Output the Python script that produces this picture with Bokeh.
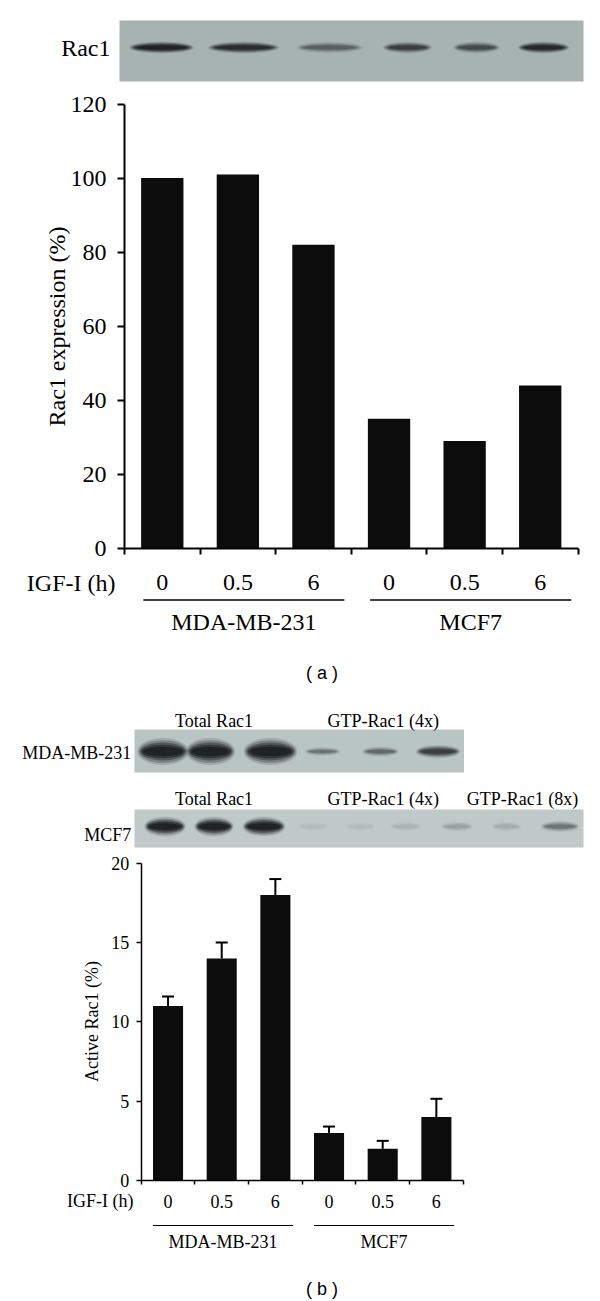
import numpy as np
from bokeh.plotting import figure
from bokeh.models import ColumnDataSource, FixedTicker, Range1d, Whisker, TeeHead
from bokeh.layouts import column
from bokeh.core.properties import value
from bokeh.embed import file_html
from bokeh.resources import INLINE

# ---------------- data ----------------
IGF_TIMES = ["0", "0.5", "6", "0", "0.5", "6"]
CELL_LINES = ["MDA-MB-231", "MCF7"]
RAC1_EXPRESSION = [100, 101, 82, 35, 29, 44]          # panel (a), %
ACTIVE_RAC1 = [11, 14, 18, 3, 2, 4]                    # panel (b), %
ACTIVE_RAC1_ERR = [0.6, 1.0, 1.0, 0.4, 0.5, 1.15]      # panel (b), SD
Y_TITLE_A = "Rac1 expression (%)"
Y_TITLE_B = "Active Rac1 (%)"
X_TITLE = "IGF-I (h)"
# western-blot band darkness (0..1), left to right
BLOT_A_BANDS = [0.95, 0.8, 0.35, 0.6, 0.5, 0.85]
BLOT_B_MDA_BANDS = [1.0, 1.0, 1.0, 0.3, 0.35, 0.65]
BLOT_B_MCF7_BANDS = [1.0, 1.0, 1.0, 0.03, 0.03, 0.06, 0.12, 0.08, 0.3]
BLOT_B_MDA_HEADERS = ["Total Rac1", "GTP-Rac1 (4x)"]
BLOT_B_MCF7_HEADERS = ["Total Rac1", "GTP-Rac1 (4x)", "GTP-Rac1 (8x)"]

SERIF = "Liberation Serif"
SANS = "Liberation Sans"
BAR = "#0b0c0b"
BAND = "#141616"

W = 600
TOP_A, BOT_A = 0, 690
TOP_B, BOT_B = 690, 1300


def conv(ax0, cw, y0, upx):
    u = lambda px: (px - ax0) / cw - 0.5
    v = lambda py: (y0 - py) / upx
    return u, v


def base_fig(u, v, top, bot):
    p = figure(width=W, height=bot - top, x_range=Range1d(u(0), u(W)),
               y_range=Range1d(v(bot), v(top)), output_backend="svg",
               toolbar_location=None, min_border=0)
    p.outline_line_color = None
    p.grid.visible = False
    p.background_fill_color = "white"
    p.border_fill_color = "white"
    return p


def style_axes(p, ymax, ystep, fs, lw, ytick, xtick, ystand, xstand):
    n = len(IGF_TIMES)
    xa = p.xaxis[0]
    xa.fixed_location = 0
    xa.bounds = (-0.5, n - 0.5)
    xa.ticker = FixedTicker(ticks=list(range(n)),
                            minor_ticks=[k - 0.5 for k in range(n + 1)])
    xa.major_label_overrides = {i: t for i, t in enumerate(IGF_TIMES)}
    xa.major_tick_out = 0
    xa.major_tick_in = 0
    xa.minor_tick_out = xtick
    xa.minor_tick_in = 0
    xa.axis_line_width = lw
    xa.minor_tick_line_width = lw
    xa.axis_line_color = "black"
    xa.minor_tick_line_color = "black"
    xa.major_label_text_font = SERIF
    xa.major_label_text_font_size = fs
    xa.major_label_text_color = "black"
    xa.major_label_standoff = xstand

    ya = p.yaxis[0]
    ya.fixed_location = -0.5
    ya.bounds = (0, ymax)
    ya.ticker = FixedTicker(ticks=list(range(0, ymax + 1, ystep)))
    ya.major_tick_out = ytick
    ya.major_tick_in = 0
    ya.minor_tick_line_color = None
    ya.axis_line_width = lw
    ya.major_tick_line_width = lw
    ya.axis_line_color = "black"
    ya.major_tick_line_color = "black"
    ya.major_label_text_font = SERIF
    ya.major_label_text_font_size = fs
    ya.major_label_text_color = "black"
    ya.major_label_standoff = ystand


def txt(p, x, y, s, fs, align="center", font=SERIF, angle=0.0):
    p.text(x=[x], y=[y], text=[s], text_align=align, text_baseline="middle",
           text_font=value(font), text_font_size=fs, text_color="black",
           angle=angle)


def bands(p, xs, y, widths, heights, dark):
    dark = np.asarray(dark, dtype=float)
    widths = np.asarray(widths, dtype=float)
    heights = np.asarray(heights, dtype=float)
    ys = [y] * len(xs)
    layers = [(1.12, 1.5, 0.15), (1.06, 1.25, 0.25), (1.0, 1.0, 0.4),
              (0.94, 0.75, 0.5), (0.85, 0.5, 0.6)]
    for wf, hf, af in layers:
        p.ellipse(x=xs, y=ys, width=widths * wf, height=heights * hf,
                  fill_color=BAND, fill_alpha=np.clip(dark * af, 0, 1),
                  line_color=None)


x = np.arange(len(IGF_TIMES))

# ================= panel (a) =================
cwa, upa = (577.5 - 124) / 6, (548 - 103.5) / 120
ua, va = conv(124, cwa, 548, upa)
pa = base_fig(ua, va, TOP_A, BOT_A)

# blot
pa.quad(left=[ua(119)], right=[ua(583)], bottom=[va(81)], top=[va(20)],
        fill_color="#a6b3b1", line_color=None)
lane_px_a = [161, 243, 329, 407, 476, 543]
band_w_a = [58, 64, 60, 44, 42, 46]
bands(pa, [ua(q) for q in lane_px_a], va(47),
      [w / cwa for w in band_w_a], [8 / upa] * 6, BLOT_A_BANDS)
txt(pa, ua(110), va(47), "Rac1", "24px", align="right")

pa.vbar(x=x, top=RAC1_EXPRESSION, width=0.56, fill_color=BAR, line_color=None)
style_axes(pa, 120, 20, "24px", 2, 7, 6, 11, 20)
txt(pa, ua(56), va(326), Y_TITLE_A, "24px", angle=np.pi / 2)

txt(pa, ua(115), va(582), X_TITLE, "24px", align="right")
for g, name in enumerate(CELL_LINES):
    x0, x1 = 3 * g - 0.5 + 0.25, 3 * g + 2.5 - 0.09
    pa.segment(x0=[x0], x1=[x1], y0=[va(599.5)], y1=[va(599.5)],
               line_color="black", line_width=1.5)
    txt(pa, (x0 + x1) / 2, va(621), name, "24px")
txt(pa, ua(321.5), va(672), "( a )", "18px", font=SANS)

# ================= panel (b) =================
cwb, upb = (462.7 - 140.7) / 6, (1180 - 862.7) / 20
ub, vb = conv(140.7, cwb, 1180, upb)
pb = base_fig(ub, vb, TOP_B, BOT_B)

# blot MDA-MB-231
pb.quad(left=[ub(134)], right=[ub(463.5)], bottom=[vb(772)], top=[vb(729)],
        fill_color="#b9c5c3", line_color=None)
lane_px_m = [162.5, 210, 270, 322, 380, 437.5]
band_w_m = [46, 44, 48, 32, 33, 40]
band_h_m = [18, 18, 18, 6, 7, 9]
bands(pb, [ub(q) for q in lane_px_m], vb(751),
      [w / cwb for w in band_w_m], [h / upb for h in band_h_m], BLOT_B_MDA_BANDS)
txt(pb, ub(130.8), vb(752), CELL_LINES[0], "18px", align="right")
for s, cx in zip(BLOT_B_MDA_HEADERS, [213.5, 382.7]):
    txt(pb, ub(cx), vb(720), s, "18px")

# blot MCF7
pb.quad(left=[ub(134)], right=[ub(583)], bottom=[vb(847)], top=[vb(809)],
        fill_color="#bfcac8", line_color=None)
lane_px_c = [164.5, 213.5, 263.5, 313, 360, 405, 456.5, 506, 559.5]
band_w_c = [37, 35, 38, 28, 28, 28, 29, 27, 35]
band_h_c = [13, 13, 13, 7, 7, 7, 7, 7, 8]
bands(pb, [ub(q) for q in lane_px_c], vb(826),
      [w / cwb for w in band_w_c], [h / upb for h in band_h_c], BLOT_B_MCF7_BANDS)
txt(pb, ub(130.8), vb(834), CELL_LINES[1], "18px", align="right")
for s, cx in zip(BLOT_B_MCF7_HEADERS, [213.5, 382.7, 522]):
    txt(pb, ub(cx), vb(798), s, "18px")

src_b = ColumnDataSource(dict(x=x, top=ACTIVE_RAC1,
                              upper=np.array(ACTIVE_RAC1) + np.array(ACTIVE_RAC1_ERR)))
pb.vbar(x="x", top="top", width=0.56, source=src_b, fill_color=BAR, line_color=None)
wh = Whisker(source=src_b, base="x", upper="upper", lower="top", dimension="height",
             line_color="black", line_width=2, lower_head=None,
             upper_head=TeeHead(size=12, line_width=2, line_color="black"))
pb.add_layout(wh)
style_axes(pb, 20, 5, "18px", 1.5, 5, 4, 7, 10)
txt(pb, ub(91), vb(1021), Y_TITLE_B, "18px", angle=np.pi / 2)

txt(pb, ub(133), vb(1200), X_TITLE, "18px", align="right")
for g, name in enumerate(CELL_LINES):
    x0, x1 = 3 * g - 0.5 + 0.22, 3 * g + 2.5 - 0.17
    pb.segment(x0=[x0], x1=[x1], y0=[vb(1225)], y1=[vb(1225)],
               line_color="black", line_width=1.2)
    txt(pb, (x0 + x1) / 2, vb(1241), name, "18px")
txt(pb, ub(321.5), vb(1288), "( b )", "18px", font=SANS)

layout = column(pa, pb)
open("out.html", "w").write(file_html(layout, INLINE))
